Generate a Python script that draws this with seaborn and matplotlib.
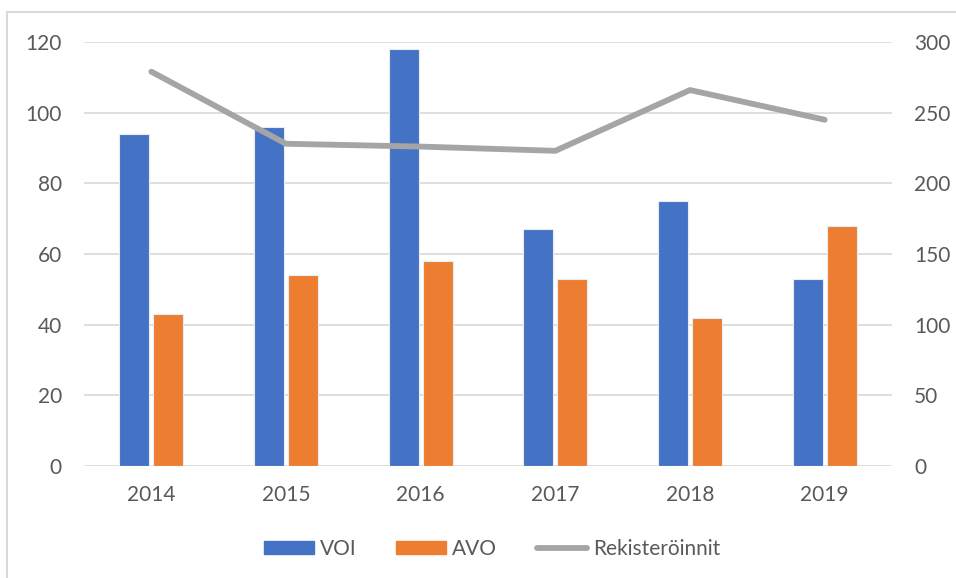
import matplotlib
matplotlib.use("Agg")
import matplotlib.pyplot as plt
import seaborn as sns
import pandas as pd
from matplotlib.patches import Rectangle
from matplotlib.lines import Line2D

years = ["2014", "2015", "2016", "2017", "2018", "2019"]
voi = [94, 96, 118, 67, 75, 53]
avo = [43, 54, 58, 53, 42, 68]
rekisteroinnit = [279, 228, 226, 223, 266, 245]

sns.set_theme(style="white")
plt.rcParams["font.family"] = ["Lato", "DejaVu Sans"]
txt = "#595959"
grid = "#D9D9D9"
fs = 15

df = pd.DataFrame({
    "Vuosi": years * 2,
    "Arvo": voi + avo,
    "Sarja": ["VOI"] * len(years) + ["AVO"] * len(years),
})

fig = plt.figure(figsize=(9.56, 5.78), dpi=100)
ax = fig.add_axes([84 / 956, 1 - 466 / 578, (892 - 84) / 956, (466 - 42) / 578])

sns.barplot(data=df, x="Vuosi", y="Arvo", hue="Sarja",
            palette={"VOI": "#4472C4", "AVO": "#ED7D31"},
            width=0.505, gap=0.117, ax=ax, legend=False, saturation=1,
            edgecolor="#E8ECF4", linewidth=0.8)

ax.set_ylim(0, 120)
ax.set_yticks(range(0, 121, 20))
ax.set_xlim(-0.5, 5.5)
ax.set_xlabel("")
ax.set_ylabel("")
ax.grid(axis="y", color=grid, linewidth=1.2)
ax.set_axisbelow(True)
for s in ax.spines.values():
    s.set_visible(False)
ax.tick_params(axis="both", length=0, labelsize=fs, labelcolor=txt)
ax.tick_params(axis="y", pad=16)
ax.tick_params(axis="x", pad=14)

ax2 = ax.twinx()
sns.pointplot(x=years, y=rekisteroinnit, color="#A5A5A5", markers="",
              linestyles="-", linewidth=4.2, ax=ax2, errorbar=None)
ax2.set_ylim(0, 300)
ax2.set_yticks(range(0, 301, 50))
ax2.set_xlim(-0.5, 5.5)
ax2.set_ylabel("")
for s in ax2.spines.values():
    s.set_visible(False)
ax2.tick_params(axis="y", length=0, labelsize=fs, labelcolor=txt, pad=16)
for l in ax2.lines:
    l.set_solid_capstyle("round")
    l.set_solid_joinstyle("round")

handles = [
    Rectangle((0, 0), 1, 1, color="#4472C4"),
    Rectangle((0, 0), 1, 1, color="#ED7D31"),
    Line2D([0], [0], color="#A5A5A5", linewidth=4.2, solid_capstyle="round"),
]
leg = fig.legend(handles, ["VOI", "AVO", "Rekisteröinnit"], loc="center",
                 bbox_to_anchor=(492 / 956, 1 - 549 / 578), ncol=3, frameon=False,
                 fontsize=fs, handlelength=2.4, handleheight=0.6,
                 handletextpad=0.3, columnspacing=1.9)
for t in leg.get_texts():
    t.set_color(txt)

# outer chart frame (left and top edges visible)
fig.patches.append(Rectangle((7 / 956, -0.05), 1.2, 1 - 12 / 578 + 0.05,
                             transform=fig.transFigure, fill=False,
                             edgecolor=grid, linewidth=1.5, zorder=0))

fig.savefig("out.png", dpi=100)
